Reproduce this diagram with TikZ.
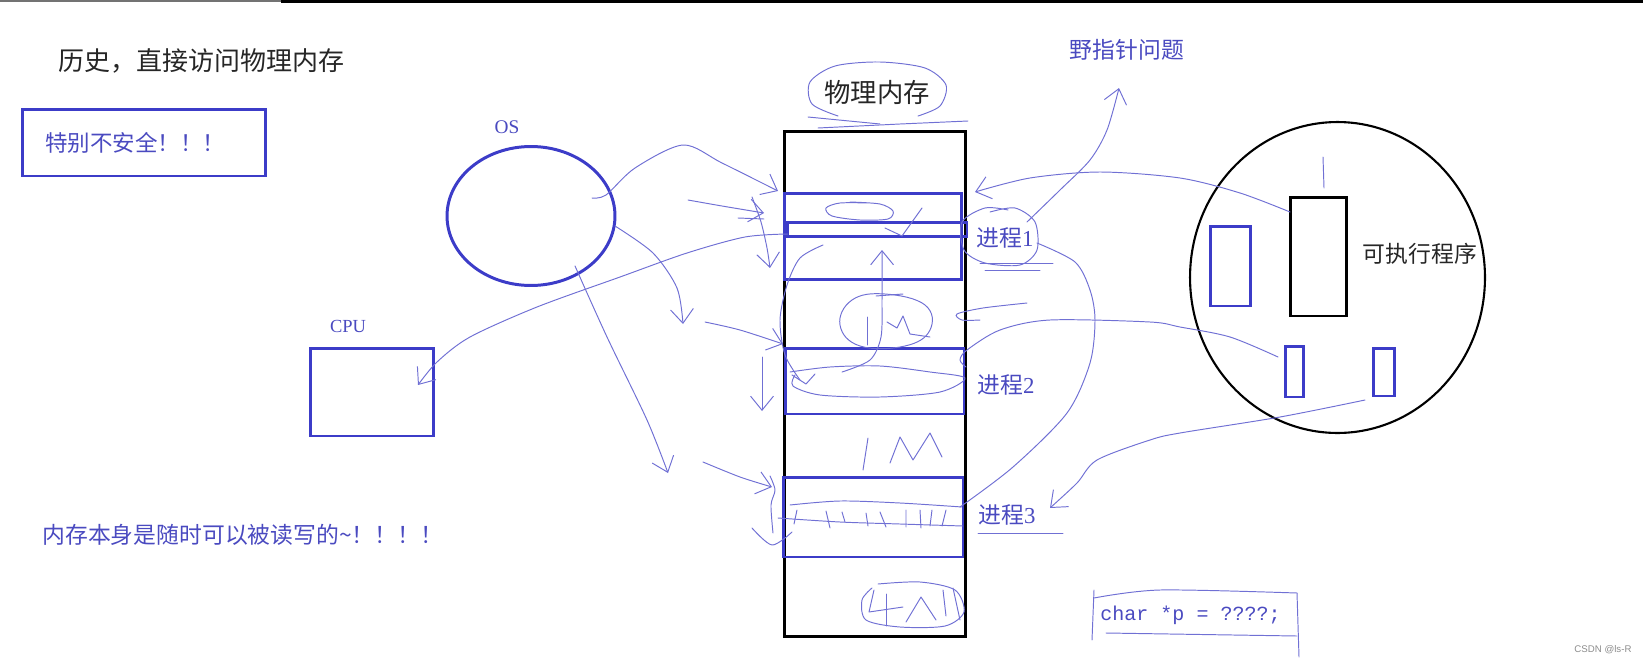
\documentclass[tikz,border=0pt]{standalone}
\usepackage{fontspec}
\setmainfont{Liberation Serif}
\setmonofont{Liberation Mono}
\newfontfamily\cjk{Noto Sans CJK SC}
\newfontfamily\wmfont{Liberation Sans}
\usetikzlibrary{arrows.meta,shapes.geometric}
\definecolor{penblue}{RGB}{60,60,200}
\definecolor{inkblue}{RGB}{112,112,212}
\definecolor{txtblue}{RGB}{74,74,192}
\tikzset{
  ink/.style={draw=inkblue, line width=0.55pt, line cap=round, line join=round},
  inkarrow/.style={ink, -{Straight Barb[length=8pt,width=13pt]}},
  bluebox/.style={draw=penblue, line width=1.7pt, inner sep=0pt},
  blackbox/.style={draw=black, line width=1.7pt, inner sep=0pt},
  bluelbl/.style={inner sep=0pt, text=txtblue},
  blacklbl/.style={inner sep=0pt, text=black!85},
}

\begin{document}
\begin{tikzpicture}[x=0.02cm,y=-0.02cm]
	%% one unit = one pixel of the screenshot
	\useasboundingbox (0,0) rectangle (1643,663);

	% top edge of the screen
	\draw[black!55, line width=0.8pt] (0,1) -- (281,1);
	\draw[black, line width=1.6pt] (281,1.2) -- (1643,1.2);

	% left column
	\node[blacklbl, anchor=west, font=\cjk\fontsize{14.8}{17}\selectfont] (title) at (58,61) {历史，直接访问物理内存};
	\node[bluebox, minimum width=4.88cm, minimum height=1.34cm] (unsafe) at (144,142.5) {};
	\node[bluelbl, anchor=west, font=\cjk\fontsize{12.8}{15}\selectfont] (unsafetxt) at (45,143) {特别不安全！！！};
	\node[bluelbl, font=\cjk\fontsize{13}{15}\selectfont, anchor=west] (rwtxt) at (42,535) {内存本身是随时可以被读写的\textasciitilde！！！！};

	% OS and CPU
	\node[bluelbl, font=\fontsize{11}{12}\selectfont] (oslbl) at (507,127) {OS};
	\node[draw=penblue, line width=1.7pt, ellipse, inner sep=0pt, minimum width=3.36cm, minimum height=2.78cm] (os) at (531,216) {};
	\node[bluelbl, font=\fontsize{10.5}{12}\selectfont] (cpulbl) at (348,326) {CPU};
	\node[bluebox, minimum width=2.48cm, minimum height=1.76cm] (cpu) at (372,392) {};

	% physical memory
	\node[blacklbl, font=\cjk\fontsize{15}{17}\selectfont] (memlbl) at (877,93) {物理内存};
	\node[blackbox, minimum width=3.62cm, minimum height=10.12cm] (mem) at (875,384) {};
	\node[bluebox, minimum width=3.54cm, minimum height=1.72cm] (proc1) at (873,236.5) {};
	\node[bluebox, minimum width=3.6cm, minimum height=0.28cm] (band1) at (877,229.5) {};
	\node[bluebox, minimum width=3.58cm, minimum height=1.32cm] (proc2) at (874.5,381) {};
	\node[bluebox, minimum width=3.6cm, minimum height=1.6cm] (proc3) at (873,517) {};
	\node[bluelbl, font=\fontsize{13}{15}\selectfont, anchor=west] (p1lbl) at (976,238) {{\cjk 进程}1};
	\node[bluelbl, font=\fontsize{13}{15}\selectfont, anchor=west] (p2lbl) at (977,385) {{\cjk 进程}2};
	\node[bluelbl, font=\fontsize{13}{15}\selectfont, anchor=west] (p3lbl) at (978,515) {{\cjk 进程}3};
	\node[bluelbl, font=\cjk\fontsize{13}{15}\selectfont] (wild) at (1127,50) {野指针问题};

	% executable on disk
	\node[draw=black, line width=1.2pt, ellipse, inner sep=0pt, minimum width=5.9cm, minimum height=6.22cm] (disk) at (1337.5,277.5) {};
	\node[bluebox, minimum width=0.8cm, minimum height=1.6cm] (seg1) at (1230,266) {};
	\node[blackbox, minimum width=1.12cm, minimum height=2.38cm] (exe) at (1318,256.5) {};
	\node[bluebox, minimum width=0.36cm, minimum height=1.02cm] (seg2) at (1294,371.5) {};
	\node[bluebox, minimum width=0.42cm, minimum height=0.96cm] (seg3) at (1383.5,372) {};
	\node[blacklbl, font=\cjk\fontsize{13}{15}\selectfont] (exelbl) at (1420,254) {可执行程序};

	\node[bluelbl, font=\ttfamily\fontsize{11.4}{13}\selectfont, anchor=west] (code) at (1100,615) {char *p = ????;};
	\node[inner sep=0pt, text=black!45, font=\wmfont\fontsize{5.5}{6}\selectfont] (wm) at (1603,650) {CSDN @ls-R};

	%% pen strokes
	% OS into the processes
	\draw[inkarrow] plot[smooth] coordinates {(592,198) (606,195) (635,168) (683,145) (722,163) (778,191)};
	\draw[inkarrow] plot[smooth] coordinates {(688,200) (722,206) (764,213)};
	\draw[ink] (738,218) -- (764,219);
	\draw[inkarrow] plot[smooth] coordinates {(752,197) (761,222) (767,248) (770,268)};
	\draw[inkarrow] plot[smooth] coordinates {(615,226) (653,253) (677,288) (683,324)};
	\draw[inkarrow] plot[smooth] coordinates {(705,322) (740,330) (783,344)};
	\draw[inkarrow] (762,357) -- (762,411);
	\draw[inkarrow] plot[smooth] coordinates {(575,266) (607,337) (647,420) (668,473)};
	\draw[inkarrow] plot[smooth] coordinates {(703,462) (740,477) (772,487)};
	\draw[ink] plot[smooth] coordinates {(770,476) (775,490) (771,505) (773,533)};
	\draw[ink] plot[smooth] coordinates {(752,528) (772,545) (792,532)};

	% process 1 to the CPU
	\draw[inkarrow] plot[smooth] coordinates {(788,234) (745,237) (687,253) (620,277) (537,307) (470,337) (437,362) (418,385)};

	% scribbles inside the memory
	\draw[ink] plot[smooth] coordinates {(868,203) (840,203) (826,208) (832,216) (860,220) (888,219) (893,211) (880,204) (850,202)};
	\draw[ink] (885,228) -- (902,236) -- (922,208);
	\draw[inkarrow] plot[smooth] coordinates {(842,372) (870,360) (881,337) (882,300) (882,250)};
	\draw[ink] plot[smooth] coordinates {(823,245) (800,258) (787,285) (780,320) (785,355) (800,380)};
	\draw[ink] (792,375) -- (806,384) -- (815,374);
	\draw[ink] plot[smooth cycle, tension=0.7] coordinates {(885,294) (925,305) (930,330) (905,346) (860,346) (840,325) (852,300)};
	\draw[ink] (867,317) -- (867,345);
	\draw[ink] (887,322) -- (897,328) -- (903,316) -- (910,334) -- (930,337);
	\draw[ink] (876,296) -- (903,294);
	\draw[ink] plot[smooth] coordinates {(790,372) (830,367) (880,366) (930,372) (965,378) (940,392) (880,397) (820,395) (793,386) (795,375)};
	% 1M
	\draw[ink] (868,438) -- (863,470);
	\draw[ink] (890,463) -- (900,437) -- (913,460) -- (930,433) -- (942,457);
	% process 3
	\draw[ink] plot[smooth] coordinates {(790,505) (840,501) (900,503) (962,507)};
	\draw[ink] plot[smooth] coordinates {(778,518) (840,522) (900,524) (963,526)};
	\draw[ink] (797,510) -- (794,524) (826,511) -- (830,528) (842,512) -- (845,522)
		(866,513) -- (868,526) (880,512) -- (886,527) (906,510) -- (906,527)
		(920,510) -- (921,528) (932,510) -- (930,526) (946,510) -- (942,526);
	% 4M
	\draw[ink] plot[smooth] coordinates {(878,584) (920,582) (955,590) (964,612) (945,626) (900,627) (866,620) (862,600) (872,588)};
	\draw[ink] (874,590) -- (869,612) -- (903,607);
	\draw[ink] (886,594) -- (886,626);
	\draw[ink] (906,622) -- (921,597) -- (936,620);
	\draw[ink] (943,590) -- (946,616);
	\draw[ink] (953,588) -- (960,620);

	% around the labels
	\draw[ink] plot[smooth] coordinates {(838,116) (812,104) (810,82) (835,66) (880,62) (925,68) (946,85) (940,106) (918,116)};
	\draw[ink] (808,117) -- (880,124);
	\draw[ink] (818,128) -- (900,124) -- (968,121);
	\draw[ink] plot[smooth] coordinates {(1008,210) (985,208) (962,222) (964,250) (985,263) (1020,265) (1037,250) (1035,222) (1015,208) (990,212)};
	\draw[ink] (980,263) -- (1053,263);
	\draw[ink] (985,270) -- (1040,270);
	\draw[ink] (978,533) -- (1063,533);

	% right side
	\draw[inkarrow] plot[smooth] coordinates {(1290,212) (1240,193) (1180,178) (1100,172) (1030,178) (975,192)};
	\draw[inkarrow] plot[smooth] coordinates {(1027,222) (1060,190) (1090,160) (1107,130) (1119,88)};
	\draw[ink] plot[smooth] coordinates {(1037,243) (1075,262) (1090,290) (1095,320) (1090,363) (1067,413) (1013,467) (960,507)};
	\draw[ink] plot[smooth] coordinates {(1278,357) (1230,337) (1180,327) (1150,322) (1050,320) (1000,330) (967,350) (960,360) (966,367)};
	\draw[ink] plot[smooth] coordinates {(1027,303) (983,308) (957,314) (962,320) (980,320)};
	\draw[inkarrow] plot[smooth] coordinates {(1365,400) (1280,417) (1180,433) (1150,440) (1097,460) (1077,483) (1050,508)};
	\draw[ink] (1323,157) -- (1324,188);

	% bracket round the code
	\draw[ink] (1094,590) -- (1092,640);
	\draw[ink] plot[smooth] coordinates {(1094,598) (1160,590) (1297,593)};
	\draw[ink] (1297,593) -- (1299,657);
	\draw[ink] (1106,633) -- (1297,636);
\end{tikzpicture}
\end{document}
